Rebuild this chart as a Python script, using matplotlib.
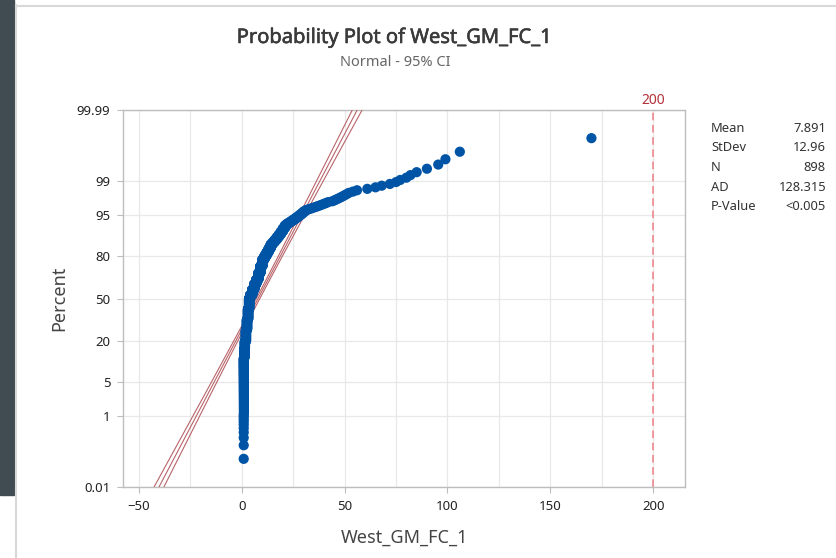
import matplotlib
matplotlib.use("Agg")
import matplotlib.pyplot as plt
import matplotlib.patheffects as pe
import numpy as np
from statistics import NormalDist
from matplotlib.ticker import MultipleLocator, FixedLocator

plt.rcParams['font.family'] = ['Noto Sans', 'DejaVu Sans']

# sample: distinct values and how many points sit at each
values = [0.9, 1.0, 1.2, 1.5, 2.0, 2.5, 3.0, 3.5, 4, 5, 6, 7, 8, 9, 10,
          11, 12, 13, 14, 15, 16, 17, 18, 19, 20, 21, 22,
          23, 24, 25, 26, 27, 28, 29, 30, 31,
          32, 33, 34, 35, 36, 37, 38, 39, 40, 41, 42,
          44, 45, 46, 47, 48, 49, 50, 51, 52, 54,
          56, 61, 65, 68, 72, 75, 77, 80, 82, 85, 90, 95.5, 99, 106, 170]
counts = [10, 98, 36, 36, 62, 63, 72, 72, 25, 38, 38, 30, 42, 42, 37,
          18, 17, 17, 17, 9, 9, 9, 9, 9, 9, 8, 4,
          3, 3, 3, 3, 3, 3, 3, 3, 2,
          1, 1, 1, 1, 1, 1, 1, 1, 1, 1, 1,
          1, 1, 1, 1, 1, 1, 1, 1, 1, 1,
          1, 1, 1, 1, 1, 1, 1, 1, 1, 1, 1, 1, 1, 1, 1]

stat_names = ["Mean", "StDev", "N", "AD", "P-Value"]
stat_vals = ["7.891", "12.96", "898", "128.315", "<0.005"]
mean, sd, n = 7.891, 12.96, 898

pct_ticks = [0.01, 1, 5, 20, 50, 80, 95, 99, 99.99]
pct_labels = ["0.01", "1", "5", "20", "50", "80", "95", "99", "99.99"]
ref_x = 200

nd = NormalDist()
data = np.sort(np.repeat(values, counts))
ranks = np.arange(1, len(data) + 1)
z = np.array([nd.inv_cdf((i - 0.3) / (len(data) + 0.4)) for i in ranks])

W, H = 836, 558
fig = plt.figure(figsize=(W / 100, H / 100), dpi=100)
fig.patch.set_facecolor('white')

# window chrome: dark strip on the left and thin panel border
fig.patches.append(plt.Rectangle((0, (H - 495) / H), 14 / W, 495 / H,
                                 transform=fig.transFigure, color='#414c52', zorder=0))
fig.add_artist(plt.Line2D([15.5 / W, 15.5 / W], [0, (H - 5) / H], transform=fig.transFigure,
                          color='#d8d8d8', lw=1.5))
fig.add_artist(plt.Line2D([15.5 / W, 1], [(H - 5.5) / H, (H - 5.5) / H], transform=fig.transFigure,
                          color='#d8d8d8', lw=1.5))

ax = fig.add_axes([123 / W, (H - 487) / H, (685 - 123) / W, (487 - 110) / H])

zlo, zhi = nd.inv_cdf(0.0001), nd.inv_cdf(0.9999)
zz = np.linspace(zlo - 0.1, zhi + 0.1, 200)
fit = mean + sd * zz
half = 1.96 * sd * np.sqrt(1 / n + zz ** 2 / (2 * n))
line_col = '#b9646a'
ax.plot(fit, zz, color=line_col, lw=0.8, zorder=3)
ax.plot(fit - half, zz, color=line_col, lw=0.8, zorder=3)
ax.plot(fit + half, zz, color=line_col, lw=0.8, zorder=3)

ax.scatter(data, z, s=54, color='#0054a6', edgecolors='none', zorder=4)

ax.axvline(ref_x, color='#ee7f85', lw=1.1, ls=(0, (5, 3)), zorder=2)
ax.text(ref_x, zhi + 0.04, "200", color='#b2323a', fontsize=10, ha='center', va='bottom')

ax.set_xlim(-57.8, 215.5)
ax.set_ylim(zlo, zhi)
ax.xaxis.set_major_locator(MultipleLocator(50))
ax.xaxis.set_minor_locator(MultipleLocator(25))
ax.yaxis.set_major_locator(FixedLocator([nd.inv_cdf(p / 100) for p in pct_ticks]))
ax.set_yticklabels(pct_labels)

ax.grid(True, which='both', color='#e8e8e8', lw=0.9, zorder=0)
ax.set_axisbelow(True)
for s in ax.spines.values():
    s.set_color('#bdbdbd')
    s.set_linewidth(1.0)
ax.tick_params(which='major', length=4, width=0.8, color='#bdbdbd', labelsize=9.5,
               labelcolor='#222222', pad=5)
ax.tick_params(which='minor', length=0)

ax.set_xlabel("West_GM_FC_1", fontsize=13, color='#444444', labelpad=12)
ax.set_ylabel("Percent", fontsize=13, color='#444444', labelpad=6)

fig.text(395 / W, (H - 38) / H, "Probability Plot of West_GM_FC_1", fontsize=14.5,
         color='#3a3a3a', ha='center', va='center',
         path_effects=[pe.withStroke(linewidth=0.4, foreground='#3a3a3a')])
fig.text(395 / W, (H - 62) / H, "Normal - 95% CI", fontsize=10.5,
         color='#666666', ha='center', va='center')

for k, (nm, v) in enumerate(zip(stat_names, stat_vals)):
    y = (H - 128 - k * 19.7) / H
    fig.text(711 / W, y, nm, fontsize=9.3, color='#333333', ha='left', va='center')
    fig.text(826 / W, y, v, fontsize=9.3, color='#333333', ha='right', va='center')

fig.savefig("out.png", dpi=100)
